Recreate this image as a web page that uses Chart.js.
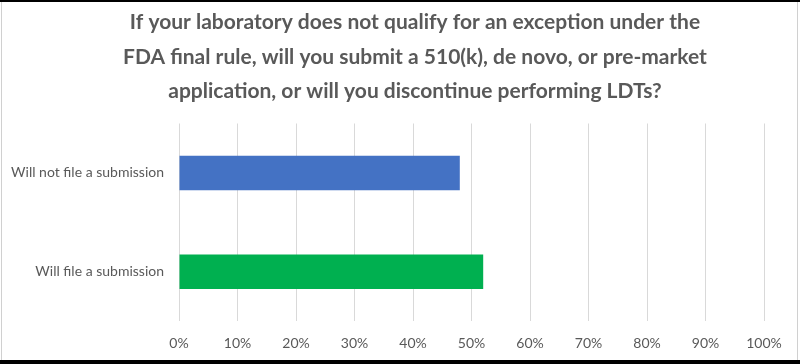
<!DOCTYPE html>
<html>
<head>
<meta charset="utf-8">
<script src="https://cdn.jsdelivr.net/npm/chart.js@4"></script>
<style>
  html, body { margin: 0; padding: 0; background: #fff; width: 800px; height: 364px; overflow: hidden; }
  canvas { display: block; position: absolute; left: 0; top: 0; }
  .strip { position: absolute; left: 0; width: 800px; background: #000; }
  .side { position: absolute; top: 0; height: 364px; width: 1px; background: #d0d0d0; }
</style>
</head>
<body>
<canvas id="c" width="800" height="364"></canvas>
<div class="side" style="left:1px"></div>
<div class="side" style="left:797px"></div>
<div class="strip" style="top:0;height:2px"></div>
<div class="strip" style="top:360px;height:4px"></div>
<script>
const titleLines = [
  "If your laboratory does not qualify for an exception under the",
  "FDA final rule, will you submit a 510(k), de novo, or pre-market",
  "application, or will you discontinue performing LDTs?"
];
const categories = ["Will not file a submission", "Will file a submission"];
const values = [48, 52];
const barColors = ["#4472C4", "#00B050"];
const xTicks = [0, 10, 20, 30, 40, 50, 60, 70, 80, 90, 100];

const textColor = "#595959";

// shift the title block so its centre sits where the reference has it
const titleShift = {
  id: "titleShift",
  afterLayout(chart) {
    const t = chart.titleBlock;
    if (t) { t.left = 66; t.right = 764; }
  }
};

new Chart(document.getElementById("c"), {
  type: "bar",
  data: {
    labels: categories,
    datasets: [{
      data: values,
      backgroundColor: barColors,
      borderWidth: 0,
      categoryPercentage: 1,
      barPercentage: 0.35
    }]
  },
  plugins: [titleShift],
  options: {
    indexAxis: "y",
    responsive: false,
    animation: false,
    layout: { padding: { left: 0, right: 36, top: 5, bottom: -2 } },
    plugins: {
      legend: { display: false },
      tooltip: { enabled: false },
      title: {
        display: true,
        text: titleLines,
        color: textColor,
        font: { family: "Lato", size: 21, weight: "bold", lineHeight: 1.643 },
        padding: { top: 0, bottom: 15 }
      }
    },
    scales: {
      x: {
        min: 0, max: 100,
        afterBuildTicks: (axis) => { axis.ticks = xTicks.map(v => ({ value: v })); },
        grid: { color: "#d9d9d9", lineWidth: 1, drawTicks: false },
        border: { display: false },
        ticks: {
          color: textColor,
          font: { family: "Lato", size: 14 },
          padding: 14,
          callback: (v) => v + "%"
        }
      },
      y: {
        grid: { display: false, drawTicks: false },
        border: { display: false },
        afterFit: (axis) => { axis.width = 179; },
        ticks: {
          color: textColor,
          font: { family: "Lato", size: 14 },
          padding: 15
        }
      }
    }
  }
});
</script>
</body>
</html>
